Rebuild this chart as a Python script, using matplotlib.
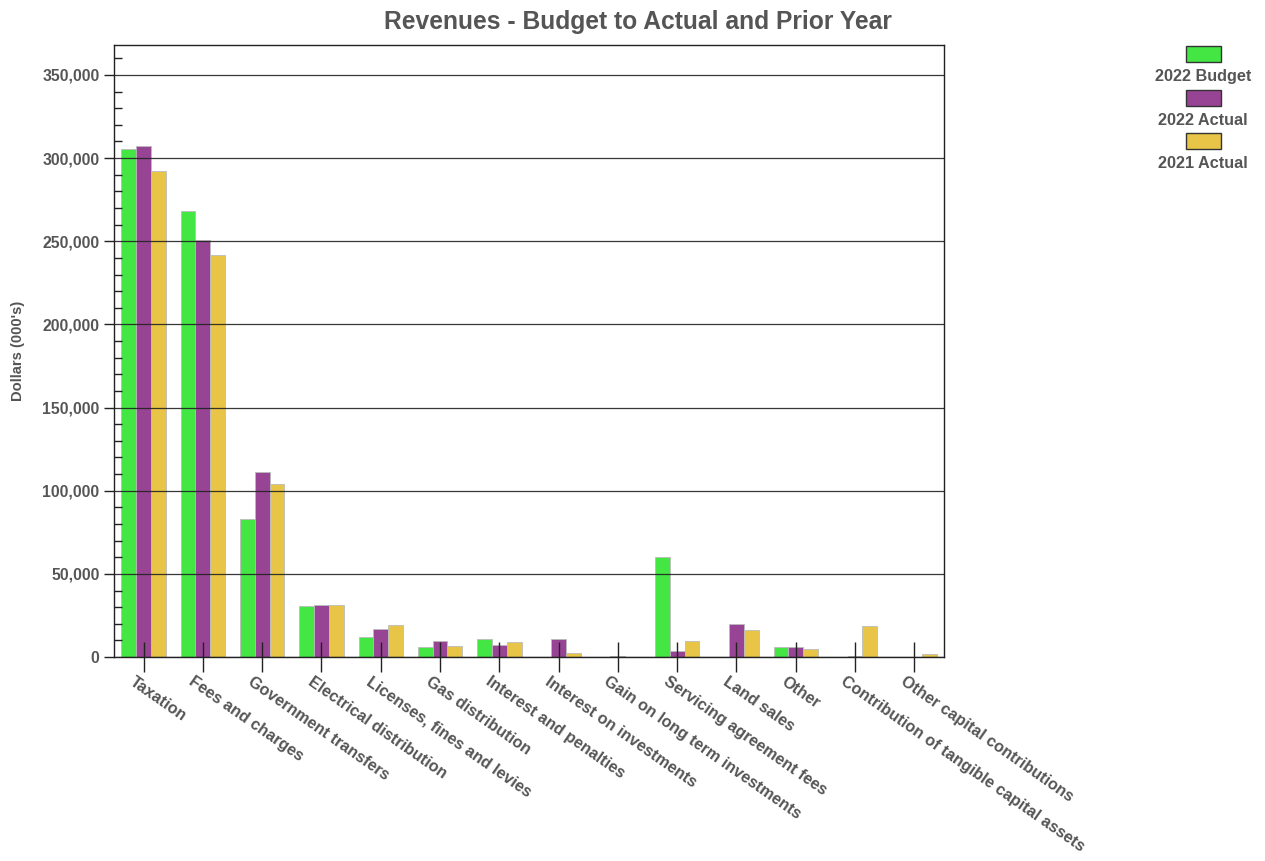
import numpy as np
import matplotlib
matplotlib.use("Agg")
import matplotlib.pyplot as plt
import matplotlib.transforms as mtransforms
from matplotlib.patches import Rectangle
from matplotlib.ticker import MultipleLocator, FuncFormatter

# =========================
# DATA (dollars, 000's)
# =========================
categories = [
    "Taxation", "Fees and charges", "Government transfers", "Electrical distribution",
    "Licenses, fines and levies", "Gas distribution", "Interest and penalties",
    "Interest on investments", "Gain on long term investments", "Servicing agreement fees",
    "Land sales", "Other", "Contribution of tangible capital assets",
    "Other capital contributions",
]
budget_2022 = [305500, 268000, 83100, 30700, 12200, 6000, 10600, 0, 0, 60000, 0, 6000, 0, 0]
actual_2022 = [307500, 250500, 111000, 31500, 16800, 9800, 7400, 10600, 600, 3800, 19900, 6000, 800, 0]
actual_2021 = [292500, 241800, 104000, 31500, 19100, 6400, 9000, 2200, 0, 9800, 16100, 5000, 18900, 2000]

series_names = ["2022 Budget", "2022 Actual", "2021 Actual"]
colors = ["#44e644", "#984494", "#e8c546"]
TEXT = "#555555"

plt.rcParams["font.family"] = ["Liberation Sans", "DejaVu Sans"]
plt.rcParams["font.weight"] = "bold"

fig = plt.figure(figsize=(12.65, 8.61), dpi=100)
ax = fig.add_axes([0.0901, 0.2369, 0.6561, 0.7108])
ax.set_axisbelow(False)

x = np.arange(len(categories))
w = 0.25
for i, (vals, col) in enumerate(zip([budget_2022, actual_2022, actual_2021], colors)):
    ax.bar(x + (i - 1) * w, vals, width=w, color=col, edgecolor="#bbbbbb",
           linewidth=0.6, zorder=1)

ax.set_xlim(-0.5, len(categories) - 0.5)
ax.set_ylim(0, 368000)

ax.yaxis.set_major_locator(MultipleLocator(50000))
ax.yaxis.set_minor_locator(MultipleLocator(10000))
ax.yaxis.set_major_formatter(FuncFormatter(lambda v, p: f"{int(v):,}"))
ax.tick_params(axis="y", which="major", direction="out", length=7, width=1,
               labelsize=11.3, labelcolor=TEXT, color="#222222")
ax.tick_params(axis="y", which="minor", direction="in", length=6, width=1, color="#222222")
ax.grid(axis="y", which="major", color="#222222", linewidth=0.9, alpha=0.9)

ax.set_xticks(x)
ax.set_xticklabels(categories, rotation=-35, ha="left", va="top",
                   rotation_mode="anchor", fontsize=11.6, color=TEXT)
ax.tick_params(axis="x", direction="inout", length=22, width=1, color="#222222", pad=1)
# nudge the slanted labels so they start just left of their tick
shift = mtransforms.ScaledTranslation(-8 / 100, 0, fig.dpi_scale_trans)
for lbl in ax.get_xticklabels():
    lbl.set_transform(lbl.get_transform() + shift)

for s in ax.spines.values():
    s.set_color("#222222")
    s.set_linewidth(1)

ax.set_ylabel("Dollars (000's)", fontsize=10.6, color=TEXT, fontweight="bold", labelpad=12)
fig.text(0.504, 1 - 22 / 861, "Revenues - Budget to Actual and Prior Year",
         ha="center", va="center", fontsize=17.7, color=TEXT, fontweight="bold")

# legend: swatch above each label
W, H = 1265, 861
for i, (name, col) in enumerate(zip(series_names, colors)):
    top = 46 + i * 43.5
    fig.patches.append(Rectangle((1186 / W, 1 - (top + 16) / H), 35 / W, 16 / H,
                                 transform=fig.transFigure, facecolor=col,
                                 edgecolor="#333333", linewidth=1))
    fig.text(1203 / W, 1 - (top + 31) / H, name, ha="center", va="center",
             fontsize=11.7, color=TEXT, fontweight="bold")

fig.savefig("out.png", dpi=100)
